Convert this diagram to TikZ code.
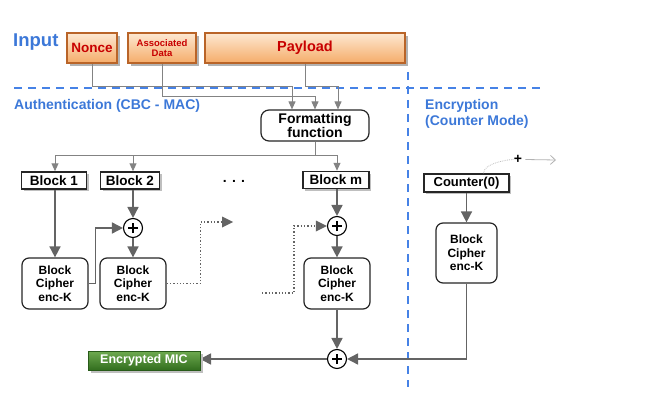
\documentclass[tikz,border=0pt]{standalone}
\usepackage{fontspec}
\setmainfont{Liberation Sans}
\usetikzlibrary{arrows.meta,shadows,calc}
\definecolor{bluetxt}{RGB}{60,120,216}
\definecolor{dashblue}{RGB}{70,130,230}
\definecolor{redtxt}{RGB}{200,0,0}
\definecolor{orgtop}{RGB}{253,232,210}
\definecolor{orgbot}{RGB}{245,172,105}
\definecolor{orgdraw}{RGB}{185,100,40}
\definecolor{grtop}{RGB}{110,170,80}
\definecolor{grbot}{RGB}{50,110,30}
\definecolor{grdraw}{RGB}{40,90,25}
\definecolor{linegray}{RGB}{100,100,100}
\tikzset{
  inbox/.style={draw=orgdraw, line width=1.4pt, top color=orgtop, bottom color=orgbot,
    text=redtxt, font=\bfseries, inner sep=0pt, align=center,
    drop shadow={shadow xshift=3pt, shadow yshift=-3pt, fill=black!30, opacity=1}},
  blockbox/.style={draw=black!85, line width=1.5pt, fill=white, font=\bfseries\fontsize{13.5}{15}\selectfont,
    inner sep=0pt, minimum height=17pt,
    drop shadow={shadow xshift=2pt, shadow yshift=-2pt, fill=black!25, opacity=1}},
  cipher/.style={draw=black!85, line width=1.2pt, fill=white, rounded corners=7pt, align=center,
    font=\bfseries\fontsize{12}{13.5}\selectfont, inner sep=0pt, minimum width=66pt, minimum height=51pt},
  xorn/.style={circle, draw=black, line width=1.1pt, fill=white, minimum size=19pt, inner sep=0pt,
    path picture={\draw[line width=2.2pt] ([xshift=-5pt]path picture bounding box.center) -- ++(10pt,0);
                  \draw[line width=2.2pt] ([yshift=-5pt]path picture bounding box.center) -- ++(0,10pt);}},
  thinarr/.style={draw=linegray!80, line width=1pt, -{Triangle[length=8pt,width=7pt]}},
  thinline/.style={draw=linegray!80, line width=1pt},
  bigarr/.style={draw=linegray, line width=1.6pt, -{Triangle[length=11pt,width=11pt]}},
  dotline/.style={draw=linegray, line width=1.3pt, dotted},
  bluedash/.style={draw=dashblue, line width=1.5pt, dash pattern=on 8pt off 6pt},
  sect/.style={text=bluetxt, font=\bfseries\fontsize{14}{16}\selectfont, anchor=west, align=left, inner sep=0pt}
}
\begin{document}
\begin{tikzpicture}[x=1pt,y=-1pt]
\useasboundingbox (0,0) rectangle (662,412);

% section labels
\node[sect, font=\bfseries\fontsize{18.5}{20}\selectfont] (inlab) at (13,42) {Input};
\node[sect] (authlab) at (14,106) {Authentication (CBC - MAC)};
\node[sect] (enclab) at (425,114) {Encryption\\(Counter Mode)};

% dashed separators
\draw[bluedash] (14,88) -- (543,88);
\draw[bluedash] (408,72) -- (408,387);

% inputs
\node[inbox, minimum width=50pt, minimum height=30pt, font=\bfseries\fontsize{13.5}{15}\selectfont] (nonce) at (92,48) {Nonce};
\node[inbox, minimum width=68pt, minimum height=30pt, font=\bfseries\fontsize{9.5}{10.5}\selectfont] (ad) at (162,48) {Associated\\Data};
\node[inbox, minimum width=200pt, minimum height=30pt, font=\bfseries\fontsize{14.5}{16}\selectfont] (pl) at (305,48) {Payload};

% formatting function
\node[draw=black!85, line width=1.2pt, fill=white, rounded corners=8pt, minimum width=108pt, minimum height=31pt,
  inner sep=0pt, align=center, font=\bfseries\fontsize{14}{14}\selectfont] (fmt) at (315,125.5) {Formatting\\function};

\draw[thinarr] (nonce.south) -- ++(0,23) -| ([xshift=-23pt]fmt.north);
\draw[thinarr] (ad.south) -- ++(0,33) -| (fmt.north);
\draw[thinarr] (pl.south) -- ++(0,23) -| ([xshift=23pt]fmt.north);

% blocks
\node[blockbox, minimum width=65pt] (b1) at (54,180.5) {Block 1};
\node[blockbox, minimum width=59pt] (b2) at (130,180.5) {Block 2};
\node[blockbox, minimum width=66pt] (bm) at (336,180) {Block m};
\node[font=\bfseries\fontsize{14}{15}\selectfont] (dots) at (234,181) {. . .};

% ciphers and xors
\node[cipher] (c1) at (55,283.5) {Block\\Cipher\\enc-K};
\node[cipher] (c2) at (133,283.5) {Block\\Cipher\\enc-K};
\node[cipher] (cm) at (337,283.5) {Block\\Cipher\\enc-K};
\node[xorn] (x2) at (133,228) {};
\node[xorn] (xm) at (337,226) {};
\node[xorn] (xf) at (337,359) {};

% bus from formatting
\coordinate (bus) at (315,155);
\draw[thinline] (fmt.south) -- (bus);
\draw[thinarr] (bus) -| (c1.north |- b1.north);
\draw[thinarr] (bus) -| (x2.north |- b2.north);
\draw[thinarr] (bus) -| (xm.north |- bm.north);

% main arrows
\draw[bigarr] (c1.north |- b1.south) -- (c1.north);
\draw[bigarr] (x2.north |- b2.south) -- (x2.north);
\draw[bigarr] (x2.south) -- (c2.north);
\draw[bigarr] (xm.north |- bm.south) -- (xm.north);
\draw[bigarr] (xm.south) -- (cm.north);
\draw[bigarr] (c1.east) -- ++(7,0) |- (x2.west);
\draw[bigarr] (cm.south) -- (xf.north);

% dotted chaining
\coordinate (d1) at (233,222);
\draw[dotline] (c2.east) -- ++(34,0) |- ([xshift=-11pt]d1);
\fill[linegray] (d1) -- ++(-11,-5.5) -- ++(0,11) -- cycle;
\coordinate (d2) at (262,293);
\draw[dotline] (d2) -- ++(32,0) |- ([xshift=-11pt]xm.west);
\fill[linegray] (xm.west) -- ++(-11,-5.5) -- ++(0,11) -- cycle;

% counter mode
\node[blockbox, minimum width=85pt, minimum height=18pt, font=\bfseries\fontsize{13}{14}\selectfont] (ctr) at (466.5,183) {Counter(0)};
\node[cipher, minimum width=61pt, minimum height=60pt] (ce) at (466.5,253) {Block\\Cipher\\enc-K};
\draw[bigarr] (ctr.south) -- (ce.north);
\draw[bigarr] (ce.south) |- (xf.east);
\draw[bigarr] (xf.west) -- (xf.west -| 200,0);

% counter increment
\node[font=\bfseries\fontsize{14}{14}\selectfont, inner sep=0pt] (plus) at (518,159.5) {+};
\draw[black!25, line width=0.8pt, densely dotted] ([xshift=17pt]ctr.north) .. controls ++(0,-10) and ++(-6,0) .. (plus.west);
\coordinate (incend) at (556,160);
\draw[black!30, line width=0.8pt, -{Straight Barb[length=5pt,width=9pt]}] ([xshift=3pt]plus.east) -- (incend);

% encrypted MIC
\node[draw=grdraw, line width=1pt, top color=grtop, bottom color=grbot, text=white,
  font=\bfseries\fontsize{12.5}{14}\selectfont, inner sep=0pt, minimum width=112pt, minimum height=19pt,
  drop shadow={shadow xshift=3pt, shadow yshift=-3pt, fill=black!25, opacity=1}] (mic) at (144,360.5) {Encrypted MIC};
\end{tikzpicture}
\end{document}
